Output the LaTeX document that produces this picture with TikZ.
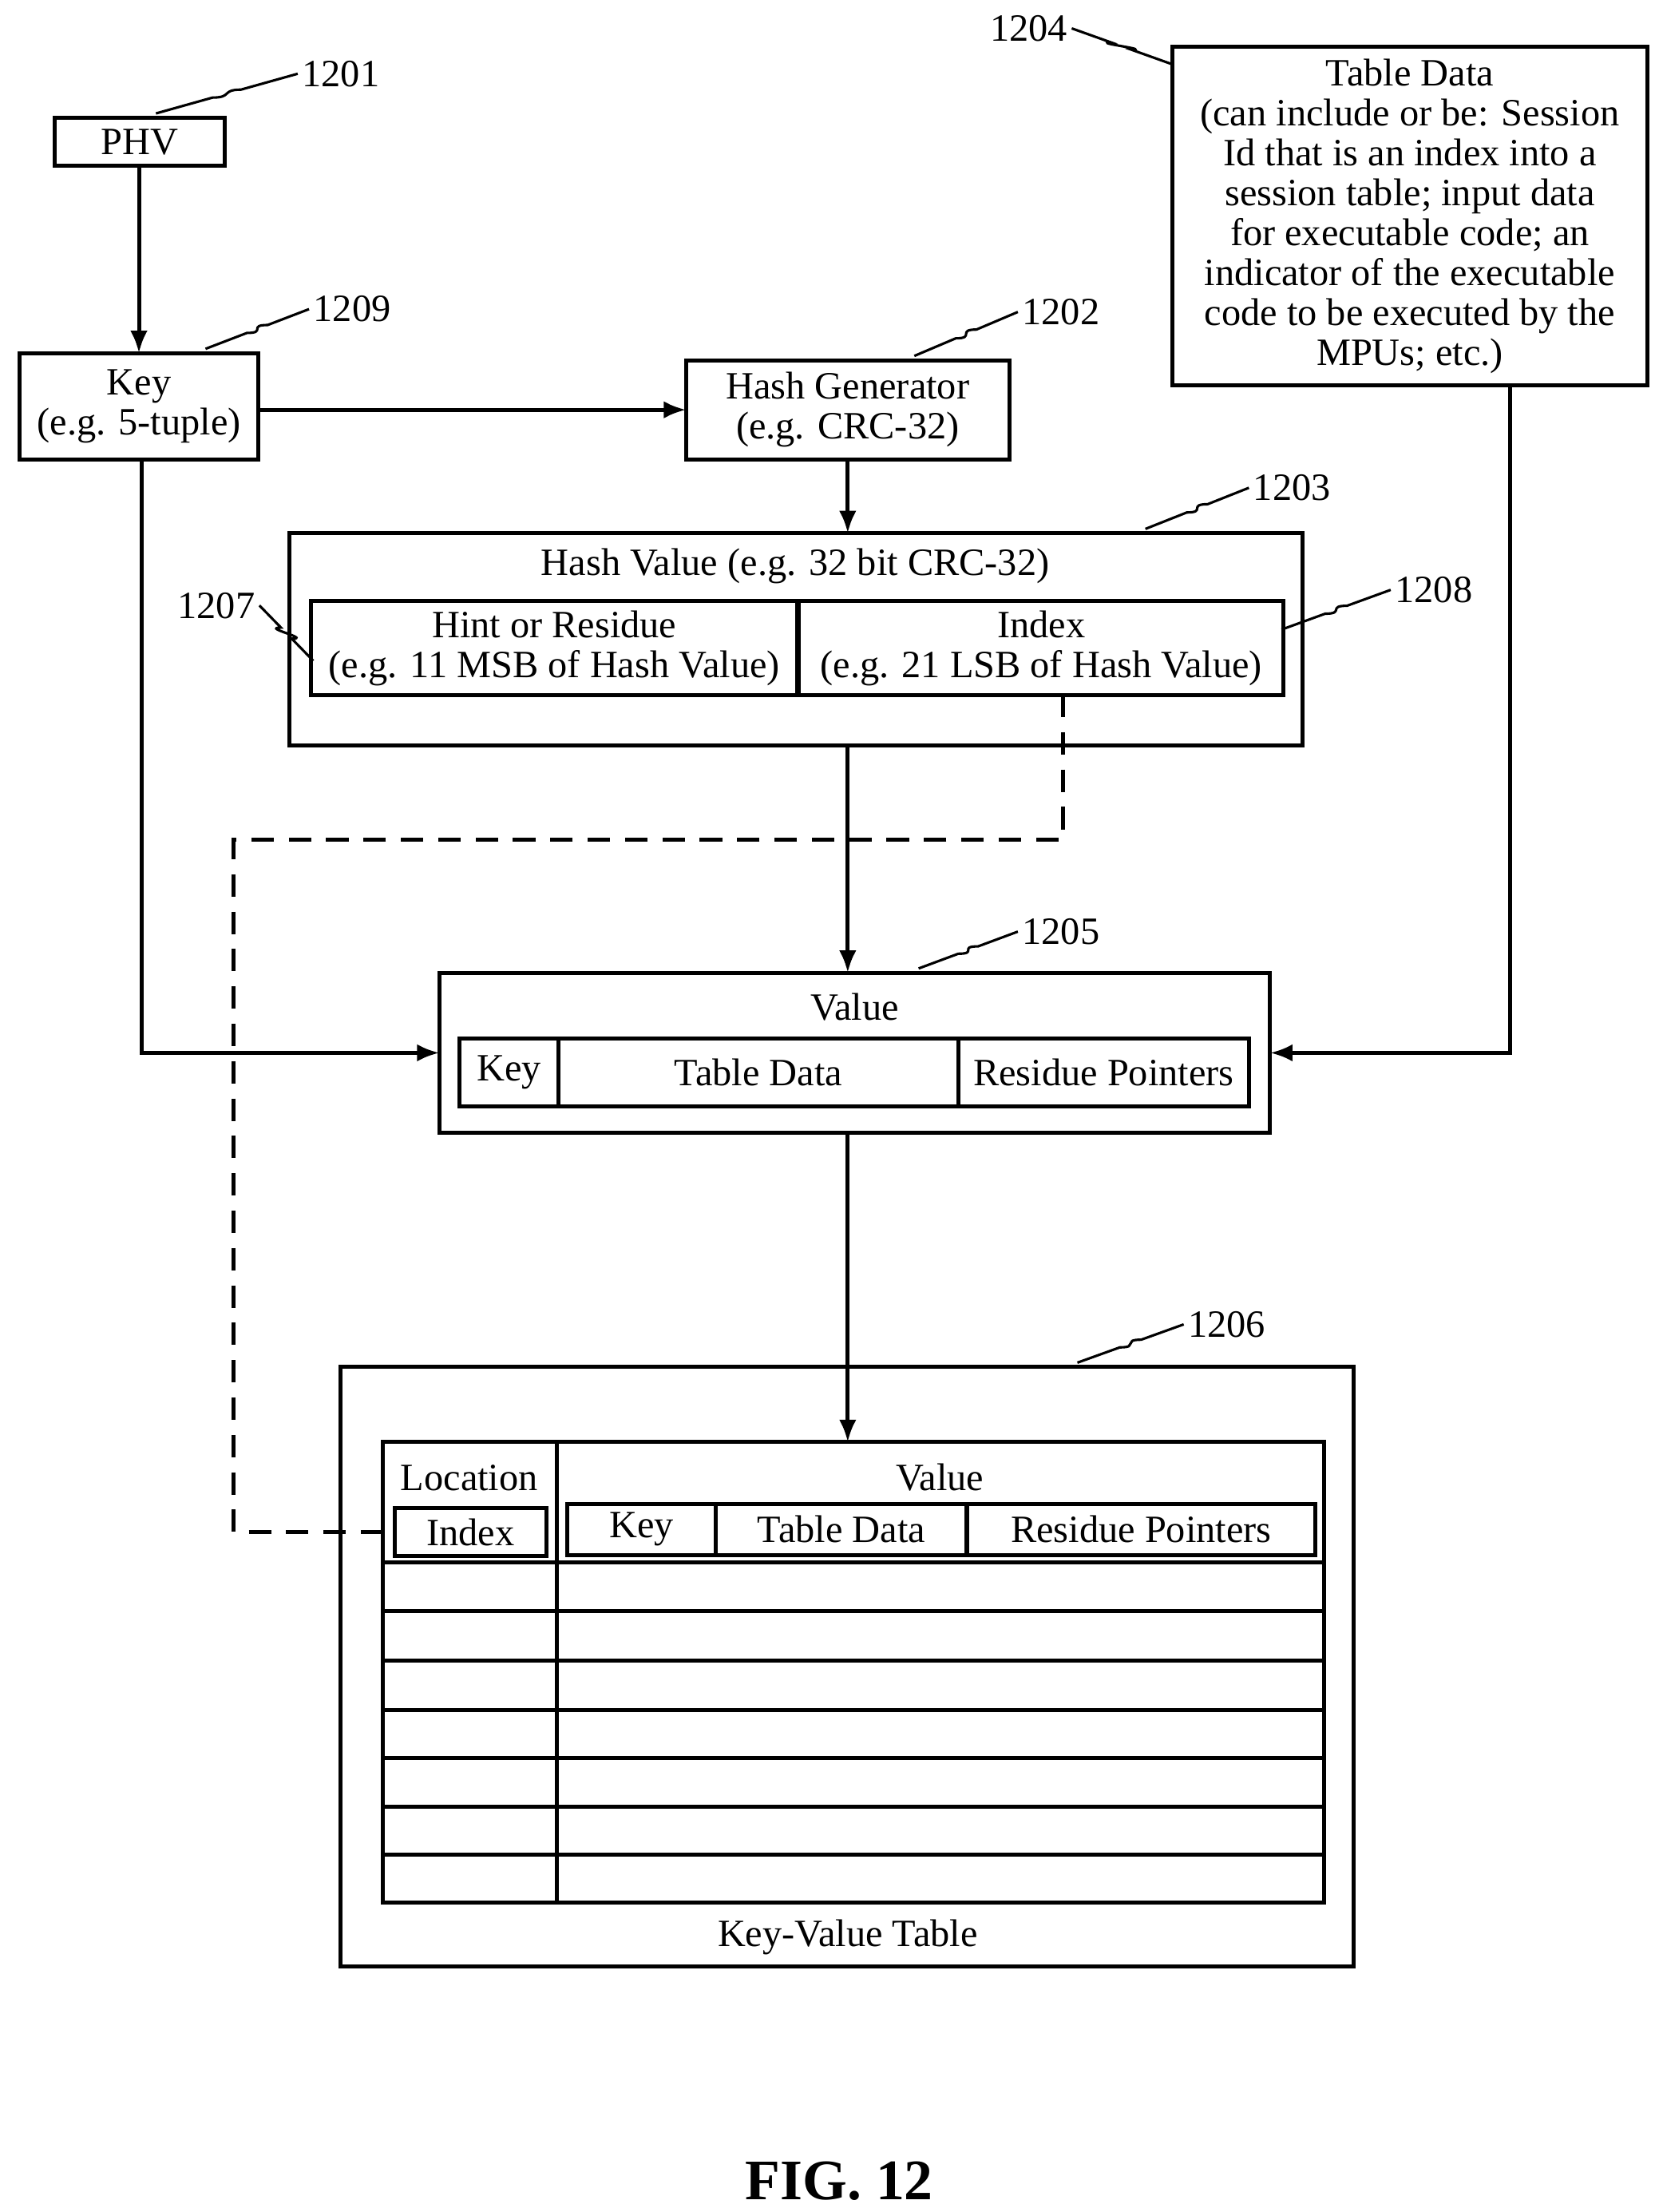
\documentclass[tikz,border=0pt]{standalone}
\usepackage{fontspec}
\setmainfont{Liberation Serif}
\usetikzlibrary{calc,arrows.meta}
\begin{document}
\begin{tikzpicture}[x=0.02cm,y=-0.02cm,line width=1.6pt,
  box/.style={draw,inner sep=0pt,outer sep=0pt,align=center,font=\fontsize{15.5}{16}\selectfont},
  txt/.style={inner sep=0pt,align=center,font=\fontsize{15.5}{16}\selectfont},
  ref/.style={inner sep=1pt,font=\fontsize{15.5}{16}\selectfont},
  arr/.style={-{Latex[length=9pt,width=7pt]}},
  dsh/.style={dash pattern=on 9pt off 6pt}]
\useasboundingbox (0,0) rectangle (1170,1560);
\newcommand\leader[2]{\draw[line width=1pt] (#1) -- ($(#1)!0.4!(#2)$) .. controls +(14,0) and +(-14,0) .. ($(#1)!0.6!(#2)$) -- (#2);}
% boxes
\node[box,minimum width=2.4cm,minimum height=0.68cm] (phv) at (98.5,100) {PHV};
\node[box,minimum width=3.36cm,minimum height=1.5cm] (key) at (98,286.5) {Key\\(e.g. 5-tuple)};
\node[box,minimum width=4.56cm,minimum height=1.4cm] (hgen) at (598,289) {Hash Generator\\(e.g. CRC-32)};
\node[box,minimum width=6.7cm,minimum height=4.78cm] (tdata) at (994.5,152.5) {Table Data\\(can include or be: Session\\Id that is an index into a\\session table; input data\\for executable code; an\\indicator of the executable\\code to be executed by the\\MPUs; etc.)};
% hash value
\node[box,minimum width=14.3cm,minimum height=3cm] (hval) at (561.5,451) {};
\node[txt] (hvtitle) at (561,399) {Hash Value (e.g. 32 bit CRC-32)};
\node[box,minimum width=6.86cm,minimum height=1.32cm] (hint) at (391,457) {Hint or Residue\\(e.g. 11 MSB of Hash Value)};
\node[box,minimum width=6.84cm,minimum height=1.32cm] (hidx) at (734.5,457) {Index\\(e.g. 21 LSB of Hash Value)};
% value
\node[box,minimum width=11.72cm,minimum height=2.26cm] (val) at (603,742.5) {};
\node[txt] (valtitle) at (603,710) {Value};
\node[box,minimum width=1.4cm,minimum height=0.96cm] (vkey) at (359,756.5) {Key};
\node[box,minimum width=5.64cm,minimum height=0.96cm] (vtd) at (535,756.5) {Table Data};
\node[box,minimum width=4.1cm,minimum height=0.96cm] (vrp) at (778.5,756.5) {Residue Pointers};
% key-value table
\node[box,minimum width=14.3cm,minimum height=8.46cm] (kvt) at (597.5,1175.5) {};
\coordinate (gtop) at (598,1017);
\draw (270,1017) rectangle (934,1342);
\draw (393,1017) -- (393,1342);
\foreach \y in {1102,1136,1171,1206,1240,1274,1308} \draw (270,\y) -- (934,\y);
\node[txt] (loc) at (331,1042) {Location};
\node[box,minimum width=2.14cm,minimum height=0.68cm] (kidx) at (332,1080.5) {Index};
\node[txt] (kvval) at (663,1042) {Value};
\node[box,minimum width=2.1cm,minimum height=0.72cm] (kkey) at (452.5,1078.5) {Key};
\node[box,minimum width=3.54cm,minimum height=0.72cm] (ktd) at (593.5,1078.5) {Table Data};
\node[box,minimum width=4.92cm,minimum height=0.72cm] (krp) at (805,1078.5) {Residue Pointers};
\node[txt] (kvlbl) at (598,1366) {Key-Value Table};
\node[inner sep=0pt,font=\fontsize{23}{25}\selectfont\bfseries] (fig) at (592,1538) {FIG. 12};
% connectors
\draw[arr] (phv.south -| 98,0) -- (key.north -| 98,0);
\draw[arr] (key.east |- 0,289) -- (hgen.west);
\draw[arr] (hgen.south -| 598,0) -- (hval.north -| 598,0);
\draw[arr] (hval.south -| 598,0) -- (val.north -| 598,0);
\draw[arr] (key.south -| 100,0) |- (val.west);
\draw[arr] (tdata.south -| 1065,0) |- (val.east);
\draw[arr] (val.south -| 598,0) -- (gtop);
\draw[dsh] (hidx.south -| 750,0) -- (750,592) -- (165,592) |- (kidx.west);
% reference numerals
\node[ref,anchor=west] (n1201) at (210,52) {1201};
\node[ref,anchor=west] (n1209) at (218,218) {1209};
\node[ref,anchor=west] (n1202) at (718,220) {1202};
\node[ref,anchor=east] (n1204) at (756,20) {1204};
\node[ref,anchor=west] (n1203) at (881,344) {1203};
\node[ref,anchor=east] (n1207) at (183,427) {1207};
\node[ref,anchor=west] (n1208) at (981,416) {1208};
\node[ref,anchor=west] (n1205) at (718,657) {1205};
\node[ref,anchor=west] (n1206) at (835,934) {1206};
\leader{110,80}{n1201.west}
\leader{145,246}{n1209.west}
\leader{645,251}{n1202.west}
\leader{826,45}{n1204.east}
\leader{808,373}{n1203.west}
\leader{221,466}{n1207.east}
\leader{904,444}{n1208.west}
\leader{648,683}{n1205.west}
\leader{760,961}{n1206.west}
\end{tikzpicture}
\end{document}
